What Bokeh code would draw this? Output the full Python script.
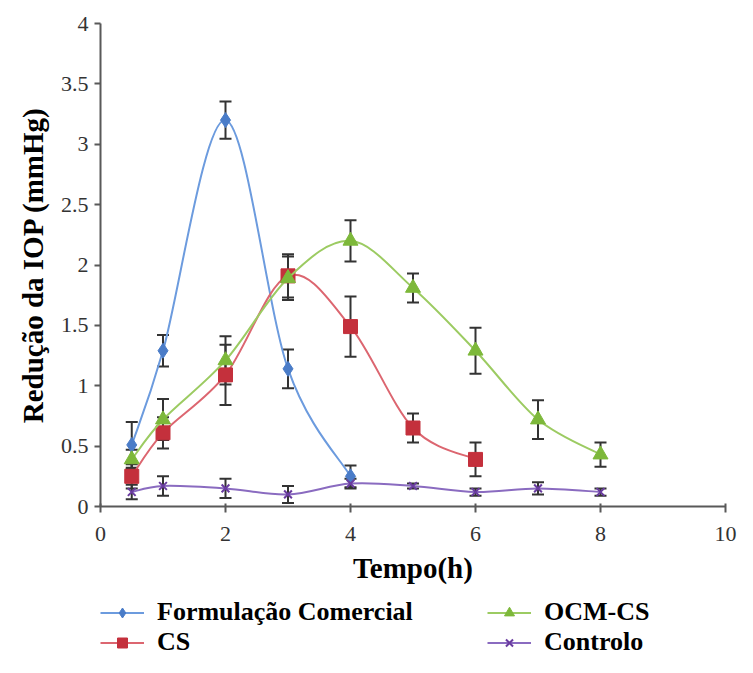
from bokeh.plotting import figure
from bokeh.layouts import column
from bokeh.models import (Range1d, ColumnDataSource, Whisker, TeeHead, Legend, LegendItem,
                          FixedTicker)
from bokeh.embed import file_html
from bokeh.resources import INLINE

# ---- data ----
t_fc = [0.5, 1, 2, 3, 4]
fc = [0.51, 1.29, 3.20, 1.14, 0.25]
fc_err = [0.19, 0.13, 0.155, 0.16, 0.09]

t_cs = [0.5, 1, 2, 3, 4, 5, 6]
cs = [0.25, 0.61, 1.09, 1.91, 1.49, 0.65, 0.39]
cs_err = [0.10, 0.13, 0.25, 0.18, 0.25, 0.12, 0.14]

t_ocm = [0.5, 1, 2, 3, 4, 5, 6, 7, 8]
ocm = [0.39, 0.72, 1.21, 1.89, 2.20, 1.81, 1.29, 0.72, 0.43]
ocm_err = [0.08, 0.17, 0.20, 0.18, 0.17, 0.12, 0.19, 0.16, 0.10]

t_ctl = [0.5, 1, 2, 3, 4, 5, 6, 7, 8]
ctl = [0.12, 0.17, 0.15, 0.10, 0.19, 0.17, 0.12, 0.15, 0.12]
ctl_err = [0.06, 0.08, 0.08, 0.07, 0.04, 0.02, 0.03, 0.05, 0.03]

labels = ["Formulação Comercial", "CS", "OCM-CS", "Controlo"]
x_ticks = [0, 2, 4, 6, 8, 10]
y_ticks = [0, 0.5, 1, 1.5, 2, 2.5, 3, 3.5, 4]
y_tick_labels = ["0", "0.5", "1", "1.5", "2", "2.5", "3", "3.5", "4"]

SERIF = "Liberation Serif"

p = figure(width=737, height=596, x_range=Range1d(0, 10), y_range=Range1d(0, 4),
           output_backend="svg", toolbar_location=None,
           min_border_left=100, min_border_right=12, min_border_top=23, min_border_bottom=90)
p.outline_line_color = None
p.xgrid.visible = False
p.ygrid.visible = False

axis_col = "#595959"
for ax in (p.xaxis[0], p.yaxis[0]):
    ax.axis_line_color = axis_col
    ax.axis_line_width = 2
    ax.major_tick_line_color = axis_col
    ax.major_tick_line_width = 2
    ax.minor_tick_line_color = None
    ax.major_label_text_font = SERIF
    ax.major_label_text_font_size = "22px"
    ax.major_label_text_color = "#333333"
    ax.axis_label_text_font = SERIF
    ax.axis_label_text_font_style = "bold"
    ax.axis_label_text_font_size = "29px"
    ax.axis_label_text_color = "#000000"

p.xaxis.ticker = FixedTicker(ticks=x_ticks)
p.yaxis.ticker = FixedTicker(ticks=y_ticks)
p.yaxis.major_label_overrides = {v: s for v, s in zip(y_ticks, y_tick_labels)}
p.xaxis.major_tick_in = 3
p.xaxis.major_tick_out = 6
p.yaxis.major_tick_in = 0
p.yaxis.major_tick_out = 6
p.xaxis.major_label_standoff = 14
p.yaxis.major_label_standoff = 6
p.xaxis.axis_label = "Tempo(h)"
p.yaxis.axis_label = "Redução da IOP (mmHg)"
p.xaxis.axis_label_standoff = 8
p.yaxis.axis_label_standoff = 9


def bezier_source(xs, ys):
    n = len(xs)
    d = dict(x0=[], y0=[], x1=[], y1=[], cx0=[], cy0=[], cx1=[], cy1=[])
    for i in range(n - 1):
        a = i - 1 if i > 0 else i
        b = i + 2 if i + 2 < n else i + 1
        d["x0"].append(xs[i]); d["y0"].append(ys[i])
        d["x1"].append(xs[i + 1]); d["y1"].append(ys[i + 1])
        d["cx0"].append(xs[i] + (xs[i + 1] - xs[a]) / 6)
        d["cy0"].append(ys[i] + (ys[i + 1] - ys[a]) / 6)
        d["cx1"].append(xs[i + 1] - (xs[b] - xs[i]) / 6)
        d["cy1"].append(ys[i + 1] - (ys[b] - ys[i]) / 6)
    return ColumnDataSource(d)


series = [
    (t_fc, fc, fc_err, "#6C9BDE", "#4A7CC8", "diamond", 15),
    (t_cs, cs, cs_err, "#DC6670", "#C4303C", "square", 14),
    (t_ocm, ocm, ocm_err, "#9CCB62", "#7DB83A", "triangle", 15),
    (t_ctl, ctl, ctl_err, "#8A6BC0", "#6A3CA0", "x", 11),
]

# legend-only figure placed below the chart; its x range lies beyond the data,
# so its key renderers draw nothing but their legend swatches
pl = figure(width=737, height=61, output_backend="svg", toolbar_location=None,
            x_range=Range1d(20, 21), y_range=Range1d(20, 21),
            min_border=0, x_axis_location=None, y_axis_location=None)
pl.outline_line_color = None
pl.xgrid.visible = False
pl.ygrid.visible = False

items = []
for (xs, ys, errs, lc, mc, mk, sz), lab in zip(series, labels):
    p.bezier(x0="x0", y0="y0", x1="x1", y1="y1", cx0="cx0", cy0="cy0",
             cx1="cx1", cy1="cy1", source=bezier_source(xs, ys),
             line_color=lc, line_width=2)
    src = ColumnDataSource(dict(x=xs, y=ys,
                                upper=[v + e for v, e in zip(ys, errs)],
                                lower=[v - e for v, e in zip(ys, errs)]))
    w = Whisker(base="x", upper="upper", lower="lower", source=src,
                line_color="#333333", line_width=2,
                upper_head=TeeHead(size=12, line_color="#333333", line_width=2),
                lower_head=TeeHead(size=12, line_color="#333333", line_width=2))
    p.add_layout(w)
    if mk == "x":
        p.scatter("x", "y", source=src, marker=mk, size=sz, line_color=mc, line_width=2)
    else:
        p.scatter("x", "y", source=src, marker=mk, size=sz, fill_color=mc, line_color=mc)

    lr = pl.line("x", "y", source=src, line_color=lc, line_width=2)
    if mk == "x":
        sr = pl.scatter("x", "y", source=src, marker=mk, line_color=mc, line_width=2)
    else:
        sr = pl.scatter("x", "y", source=src, marker=mk, fill_color=mc, line_color=mc)
    items.append(LegendItem(label=lab, renderers=[lr, sr]))

legend = Legend(items=items, location=(0, 0), orientation="vertical", ncols=2,
                label_text_font=SERIF, label_text_font_style="bold",
                label_text_font_size="26px", label_text_color="#000000",
                label_height=25, glyph_height=25, glyph_width=44, label_width=330,
                label_standoff=13, spacing=0, padding=0, margin=0,
                border_line_color=None, background_fill_alpha=0)
pl.add_layout(legend)

layout = column(p, pl, spacing=0)
open("out.html", "w").write(file_html(layout, INLINE))
